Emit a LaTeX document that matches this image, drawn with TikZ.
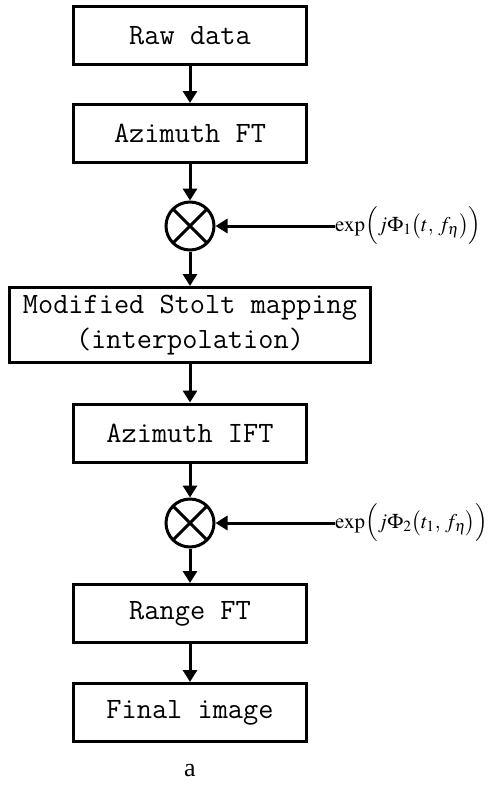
\documentclass[tikz,border=0pt]{standalone}
\usepackage{mathptmx}
\usepackage{fontspec}
\setmainfont{Liberation Serif}
\usetikzlibrary{arrows.meta,shapes}

\tikzset{
  stepbox/.style={draw, line width=3pt, minimum width=233pt, minimum height=58pt,
    align=center, inner sep=0pt, font=\ttfamily\fontsize{29.5}{35}\selectfont},
  mixer/.style={draw, circle, line width=3pt, minimum size=48pt, inner sep=0pt},
  flow/.style={line width=3pt, -{Triangle[length=12pt,width=14pt]}},
  phase/.style={inner sep=0pt, font=\fontsize{21}{25}\selectfont}
}

\begin{document}
\begin{tikzpicture}[x=1pt,y=-1pt]
\useasboundingbox (0,0) rectangle (493,785);

\coordinate (p1) at (190, 35.5);
\coordinate (p2) at (190,133.5);
\coordinate (p3) at (190,226.0);
\coordinate (p4) at (190,325.0);
\coordinate (p5) at (190,433.0);
\coordinate (p6) at (190,523.0);
\coordinate (p7) at (190,613.5);
\coordinate (p8) at (190,712.5);
\coordinate (q1) at (335,226.0);
\coordinate (q2) at (335,523.0);

\node[stepbox] (raw)   at (p1) {Raw data};
\node[stepbox] (aft)   at (p2) {Azimuth FT};
\node[mixer]   (mix1)  at (p3) {};
\node[stepbox, minimum width=361pt, minimum height=75pt]
               (stolt) at (p4) {Modified Stolt mapping\\(interpolation)};
\node[stepbox] (ift)   at (p5) {Azimuth IFT};
\node[mixer]   (mix2)  at (p6) {};
\node[stepbox] (range) at (p7) {Range FT};
\node[stepbox] (final) at (p8) {Final image};

\node[phase, anchor=west] (ph1) at (q1)
  {$\exp\Bigl(j\Phi_1\bigl(t,\, f_\eta\bigr)\Bigr)$};
\node[phase, anchor=west] (ph2) at (q2)
  {$\exp\Bigl(j\Phi_2\bigl(t_1,\, f_\eta\bigr)\Bigr)$};

\node[font=\fontsize{26}{30}\selectfont] (cap) at (190,771) {a};

% crosses of the two mixers
\foreach \m in {mix1,mix2}
  {\draw[line width=3pt, shorten <=1.5pt, shorten >=1.5pt]
      (\m.north west) -- (\m.south east);
   \draw[line width=3pt, shorten <=1.5pt, shorten >=1.5pt]
      (\m.north east) -- (\m.south west);}

\foreach \a/\b in {raw/aft, aft/mix1, mix1/stolt, stolt/ift, ift/mix2, mix2/range, range/final}
  {\draw[flow] (\a) -- (\b);}

\draw[flow] (ph1.west) -- (mix1);
\draw[flow] (ph2.west) -- (mix2);

\end{tikzpicture}
\end{document}
